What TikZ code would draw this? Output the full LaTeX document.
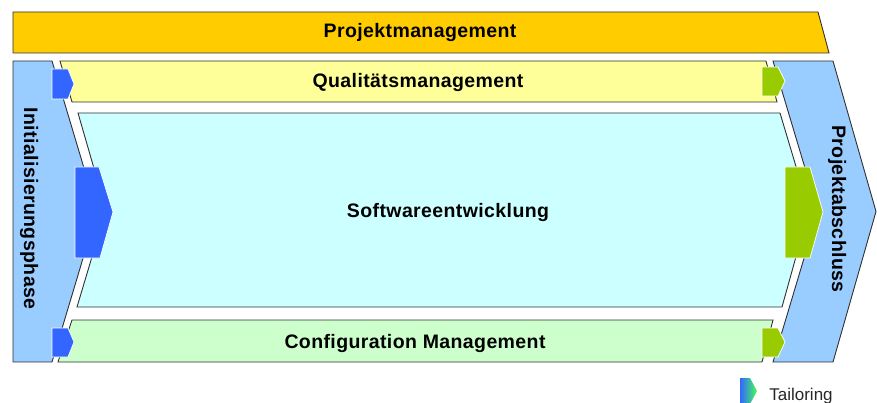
\documentclass[tikz,border=0pt]{standalone}
\usepackage{fontspec}
\newfontfamily\lblfont[LetterSpace=2]{Liberation Sans}
\newfontfamily\legfont{Liberation Sans}
\definecolor{pmcol}{HTML}{FFCC00}
\definecolor{qmcol}{HTML}{FFFF99}
\definecolor{swcol}{HTML}{CCFFFF}
\definecolor{cmcol}{HTML}{CCFFCC}
\definecolor{phcol}{HTML}{99CCFF}
\definecolor{tabblue}{HTML}{3366FF}
\definecolor{tabgreen}{HTML}{99CC00}
\definecolor{edgecol}{HTML}{303030}
\definecolor{leggreen}{HTML}{44FF55}
\tikzset{
  band/.style={draw=edgecol, line width=0.9pt, line join=miter},
  tab/.style={draw=white, line width=0.7pt},
  lbl/.style={font=\lblfont\bfseries\fontsize{19.5}{19.5}\selectfont, inner sep=0pt, anchor=base},
}
\begin{document}
\begin{tikzpicture}[x=1pt, y=-1pt]
\useasboundingbox (0,0) rectangle (877,403);
% bands
\draw[band, fill=pmcol] (13,12) -- (818,12) -- (829,53) -- (13,53) -- cycle;
\draw[band, fill=phcol] (13,61) -- (52,61) -- (97,211.5) -- (52,362) -- (13,362) -- cycle;
\draw[band, fill=qmcol] (60,61) -- (766,61) -- (777,102) -- (72,102) -- cycle;
\draw[band, fill=swcol] (78,113) -- (780,113) -- (809,210) -- (782,307) -- (77,307) -- (106,210) -- cycle;
\draw[band, fill=cmcol] (72,320) -- (773,320) -- (762,362) -- (58,362) -- cycle;
\draw[band, fill=phcol] (773,61) -- (833,61) -- (876,211.5) -- (833,362) -- (773,362) -- (818,211.5) -- cycle;
% tailoring tabs
\draw[tab, fill=tabblue] (52,69) -- (68,69) -- (74,84) -- (68,99) -- (52,99) -- cycle;
\draw[tab, fill=tabblue] (52,328) -- (68,328) -- (74,342) -- (68,357) -- (52,357) -- cycle;
\draw[tab, fill=tabblue] (75,167) -- (99,167) -- (113,212) -- (100,258) -- (75,258) -- cycle;
\draw[tab, fill=tabgreen] (762,67) -- (778,67) -- (785,81) -- (778,96) -- (762,96) -- cycle;
\draw[tab, fill=tabgreen] (762,328) -- (778,328) -- (785,342) -- (778,357) -- (762,357) -- cycle;
\draw[tab, fill=tabgreen] (785,167) -- (810,167) -- (823,212) -- (810,258) -- (785,258) -- cycle;
% legend tab
\shade[left color=tabblue, right color=leggreen, shading angle=90] (740,378) -- (750,378) -- (757,391) -- (750,404) -- (740,404) -- cycle;
% labels
\node[lbl] (pm) at (420,38) {Projektmanagement};
\node[lbl] (qm) at (418,88) {Qualitätsmanagement};
\node[lbl] (sw) at (448,218) {Softwareentwicklung};
\node[lbl] (cm) at (415,348) {Configuration Management};
\node[lbl, rotate=-90] (init) at (24,208.5) {Initialisierungsphase};
\node[lbl, rotate=-90] (abs) at (832,209) {Projektabschluss};
\node[font=\legfont\fontsize{17}{17}\selectfont, inner sep=0pt, anchor=base, text=black!85] (leg) at (801,400) {Tailoring};
\end{tikzpicture}
\end{document}
